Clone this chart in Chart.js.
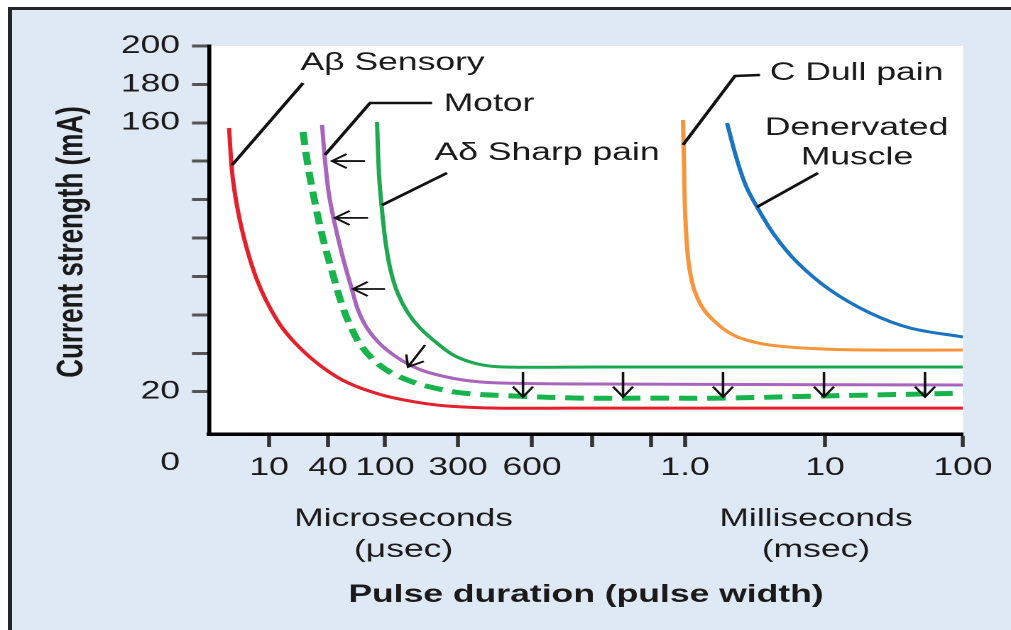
<!DOCTYPE html>
<html>
<head>
<meta charset="utf-8">
<script src="https://cdn.jsdelivr.net/npm/chart.js@4.4.1/dist/chart.umd.min.js"></script>
<style>
    html, body { margin: 0; padding: 0; background: #ffffff; }
    body { width: 1011px; height: 630px; position: relative; overflow: hidden; }
    #frame {
        position: absolute; left: 8px; top: 7px; right: 0; bottom: 0;
        background: #dfe9f5;
        border-left: 4px solid #262626;
        border-top: 3px solid #262626;
    }
    /* the figure is drawn narrow and widened, like the printed plate */
    #wrap {
        position: absolute; left: 0; top: 0; width: 712px; height: 630px;
        transform: scaleX(1.41994); transform-origin: 0 0;
    }
</style>
</head>
<body>
<div id="frame"></div>
<div id="wrap"><canvas id="chartStrength"></canvas></div>
<script>
const FONT = "'Liberation Sans', Arial, Helvetica, sans-serif";

// Position along the pulse duration axis (0 = origin, 100 = 100 msec) and tick labels
const xTickPos = [7.96, 15.78, 23.34, 33.02, 42.84, 50.80, 58.62, 63.13, 81.70, 100];
const xTickLabels = ['10', '40', '100', '300', '600', '', '', '1.0', '10', '100'];

// Current strength ticks (mA)
const yTickValues = [20, 40, 60, 80, 100, 120, 140, 160, 180, 200];
const yTickLabels = ['20', '', '', '', '', '', '', '160', '180', '200'];

// Strength-duration curves
const sensoryX = [2.65, 3.18, 4.38, 6.37, 9.02, 11.54, 14.99, 18.44, 22.94, 27.32, 31.56, 38.20, 51.86, 100];
const sensoryY = [157.3, 130.2, 104.2, 78.1, 57.3, 44.9, 32.9, 24.6, 18.3, 14.7, 12.6, 11.5, 11.5, 11.5];

const motorX = [14.99, 15.38, 15.92, 16.71, 17.77, 18.97, 19.76, 20.95, 22.68, 24.67, 26.92, 29.31, 33.69, 38.20, 51.86, 100];
const motorY = [158.9, 140.6, 122.4, 106.8, 89.6, 73.0, 62.6, 53.2, 44.9, 38.6, 33.4, 29.8, 26.1, 24.6, 24.0, 23.5];

const shiftedX = [12.47, 13.00, 13.79, 14.99, 16.45, 17.64, 18.70, 20.29, 22.94, 25.99, 29.31, 33.69, 40.32, 49.20, 58.49, 68.04, 81.30, 94.56, 100];
const shiftedY = [155.2, 140.6, 123.5, 101.6, 80.8, 65.2, 54.7, 43.3, 32.9, 26.6, 22.5, 19.3, 17.8, 16.7, 16.7, 16.7, 17.8, 18.8, 19.3];

const sharpX = [22.28, 22.55, 22.94, 23.47, 24.14, 25.07, 26.39, 27.98, 30.37, 32.63, 35.68, 38.99, 51.86, 100];
const sharpY = [160.4, 132.8, 114.6, 96.4, 82.3, 70.9, 61.0, 53.2, 44.9, 38.6, 34.4, 32.9, 32.9, 32.9];

const dullX = [62.86, 62.99, 63.13, 63.53, 64.06, 64.72, 65.65, 66.84, 68.44, 70.42, 74.40, 81.03, 87.67, 100];
const dullY = [161.5, 140.6, 114.6, 89.6, 77.1, 69.3, 62.6, 57.4, 52.1, 48.0, 44.3, 42.3, 41.7, 41.7];

const muscleX = [68.70, 70.03, 71.22, 72.68, 75.07, 77.98, 82.36, 87.67, 92.97, 100];
const muscleY = [159.9, 140.6, 127.1, 116.2, 101.1, 87.5, 73.0, 61.0, 53.2, 48.5];

// Leader lines from each name to its curve
const leaderSensoryX = [3.05, 12.47];      const leaderSensoryY = [138.0, 180.7];
const leaderMotorX = [15.38, 21.35, 29.58]; const leaderMotorY = [143.3, 170.3, 170.3];
const leaderSharpX = [22.94, 31.56];       const leaderSharpY = [117.2, 133.9];
const leaderDullX = [62.86, 69.76, 73.08]; const leaderDullY = [148.5, 184.4, 184.9];
const leaderMuscleX = [72.68, 80.77];      const leaderMuscleY = [116.2, 133.9];

// Arrows: tail x, tail y, tip x, tip y
const arrows = [
    [20.69, 140.1, 16.31, 140.1],
    [21.09, 110.5, 16.71, 110.5],
    [23.34, 73.5, 19.10, 73.5],
    [28.65, 44.3, 26.39, 32.9],
    [41.64, 30.3, 41.64, 17.3],
    [54.91, 30.3, 54.91, 17.3],
    [68.17, 30.3, 68.17, 17.3],
    [81.56, 30.3, 81.56, 17.3],
    [94.96, 30.3, 94.96, 17.3]
];

// Curve names
const labelText = ['A\u03B2 Sensory', 'Motor', 'A\u03B4 Sharp pain', 'C Dull pain', 'Denervated', 'Muscle'];
const labelX = [24.34, 37.14, 44.83, 85.88, 85.88, 85.94];
const labelY = [191.0, 169.7, 144.3, 185.9, 157.3, 142.0];

function points(xs, ys) {
    return xs.map((x, i) => ({ x: x, y: ys[i] }));
}

function curve(label, xs, ys, color, width, dash) {
    return {
        label: label,
        data: points(xs, ys),
        borderColor: color,
        borderWidth: width,
        borderDash: dash || [],
        borderCapStyle: 'butt',
        borderJoinStyle: 'round',
        tension: 0.35,
        pointRadius: 0,
        fill: false
    };
}

function leader(xs, ys) {
    return {
        label: 'leader',
        data: points(xs, ys),
        borderColor: '#111111',
        borderWidth: 2.5,
        tension: 0,
        pointRadius: 0,
        fill: false
    };
}

const annotate = {
    id: 'annotate',
    beforeDraw(chart) {
        const { ctx, chartArea: a } = chart;
        ctx.save();
        ctx.fillStyle = '#ffffff';
        ctx.fillRect(a.left, a.top, a.right - a.left, a.bottom - a.top);
        ctx.restore();
    },
    afterDatasetsDraw(chart) {
        const { ctx, scales: { x, y } } = chart;
        ctx.save();
        ctx.strokeStyle = '#111111';
        ctx.lineWidth = 1.8;
        arrows.forEach(a => {
            const x0 = x.getPixelForValue(a[0]), y0 = y.getPixelForValue(a[1]);
            const x1 = x.getPixelForValue(a[2]), y1 = y.getPixelForValue(a[3]);
            const ang = Math.atan2(y1 - y0, x1 - x0);
            const len = 12.5, spread = 0.6;
            ctx.beginPath();
            ctx.moveTo(x0, y0);
            ctx.lineTo(x1, y1);
            ctx.moveTo(x1 - len * Math.cos(ang - spread), y1 - len * Math.sin(ang - spread));
            ctx.lineTo(x1, y1);
            ctx.lineTo(x1 - len * Math.cos(ang + spread), y1 - len * Math.sin(ang + spread));
            ctx.stroke();
        });

        ctx.fillStyle = '#1a1a1a';
        ctx.font = '25px ' + FONT;
        ctx.textAlign = 'center';
        ctx.textBaseline = 'middle';
        labelText.forEach((t, i) => {
            ctx.fillText(t, x.getPixelForValue(labelX[i]), y.getPixelForValue(labelY[i]));
        });
        ctx.restore();
    },
    afterDraw(chart) {
        const { ctx, chartArea: a, scales: { x } } = chart;
        ctx.save();
        ctx.fillStyle = '#1a1a1a';
        ctx.textBaseline = 'middle';

        // origin label sits on the row of duration ticks
        ctx.font = '25px ' + FONT;
        ctx.textAlign = 'right';
        ctx.fillText('0', a.left - 20.4, a.bottom + 29);

        ctx.textAlign = 'center';
        const micro = x.getPixelForValue(25.8);
        const milli = x.getPixelForValue(80.5);
        ctx.fillText('Microseconds', micro, a.bottom + 85);
        ctx.fillText('(\u03BCsec)', micro, a.bottom + 116);
        ctx.fillText('Milliseconds', milli, a.bottom + 85);
        ctx.fillText('(msec)', milli, a.bottom + 116);

        ctx.font = 'bold 25px ' + FONT;
        ctx.fillText('Pulse duration (pulse width)', (a.left + a.right) / 2, a.bottom + 161);

        ctx.translate(50.7, (a.top + a.bottom) / 2 + 2);
        ctx.rotate(-Math.PI / 2);
        ctx.font = 'bold 26px ' + FONT;
        ctx.fillText('Current strength (mA)', 0, 0);
        ctx.restore();
    }
};

Chart.defaults.font.family = FONT;

const strength = new Chart(document.getElementById('chartStrength'), {
    type: 'line',
    data: {
        datasets: [
            leader(leaderSensoryX, leaderSensoryY),
            leader(leaderMotorX, leaderMotorY),
            leader(leaderSharpX, leaderSharpY),
            leader(leaderDullX, leaderDullY),
            leader(leaderMuscleX, leaderMuscleY),
            curve('A\u03B2 Sensory', sensoryX, sensoryY, '#e3202b', 3),
            curve('Motor (lowered threshold)', shiftedX, shiftedY, '#17b34c', 5, [13, 7]),
            curve('Motor', motorX, motorY, '#a765bb', 3),
            curve('A\u03B4 Sharp pain', sharpX, sharpY, '#1fa852', 3),
            curve('C Dull pain', dullX, dullY, '#f7953b', 3),
            curve('Denervated Muscle', muscleX, muscleY, '#1a74bf', 3)
        ]
    },
    options: {
        responsive: true,
        maintainAspectRatio: false,
        animation: false,
        devicePixelRatio: 2,
        layout: { padding: { left: 0, right: 33.8, top: 46, bottom: 0 } },
        plugins: {
            legend: { display: false },
            tooltip: { enabled: false }
        },
        scales: {
            x: {
                type: 'linear',
                min: 0,
                max: 100,
                bounds: 'data',
                afterBuildTicks: (scale) => {
                    scale.ticks = xTickPos.map(v => ({ value: v }));
                },
                afterFit: (scale) => { scale.height = 196; },
                ticks: {
                    autoSkip: false,
                    maxRotation: 0,
                    padding: 6,
                    color: '#1a1a1a',
                    font: { size: 25 },
                    callback: (value, index) => xTickLabels[index]
                },
                grid: {
                    drawOnChartArea: false,
                    tickLength: 13,
                    tickWidth: 2.8,
                    tickColor: '#333333'
                },
                border: { color: '#000000', width: 3.5 }
            },
            y: {
                type: 'linear',
                min: -2,
                max: 200,
                bounds: 'data',
                afterBuildTicks: (scale) => {
                    scale.ticks = yTickValues.map(v => ({ value: v }));
                },
                afterFit: (scale) => { scale.width = 147.2; },
                ticks: {
                    autoSkip: false,
                    padding: 8.4,
                    color: '#1a1a1a',
                    font: { size: 25 },
                    callback: (value, index) => yTickLabels[index]
                },
                grid: {
                    drawOnChartArea: false,
                    tickLength: 12,
                    tickWidth: 3,
                    tickColor: '#555555'
                },
                border: { color: '#000000', width: 2.8 }
            }
        }
    },
    plugins: [annotate]
});
</script>
</body>
</html>
